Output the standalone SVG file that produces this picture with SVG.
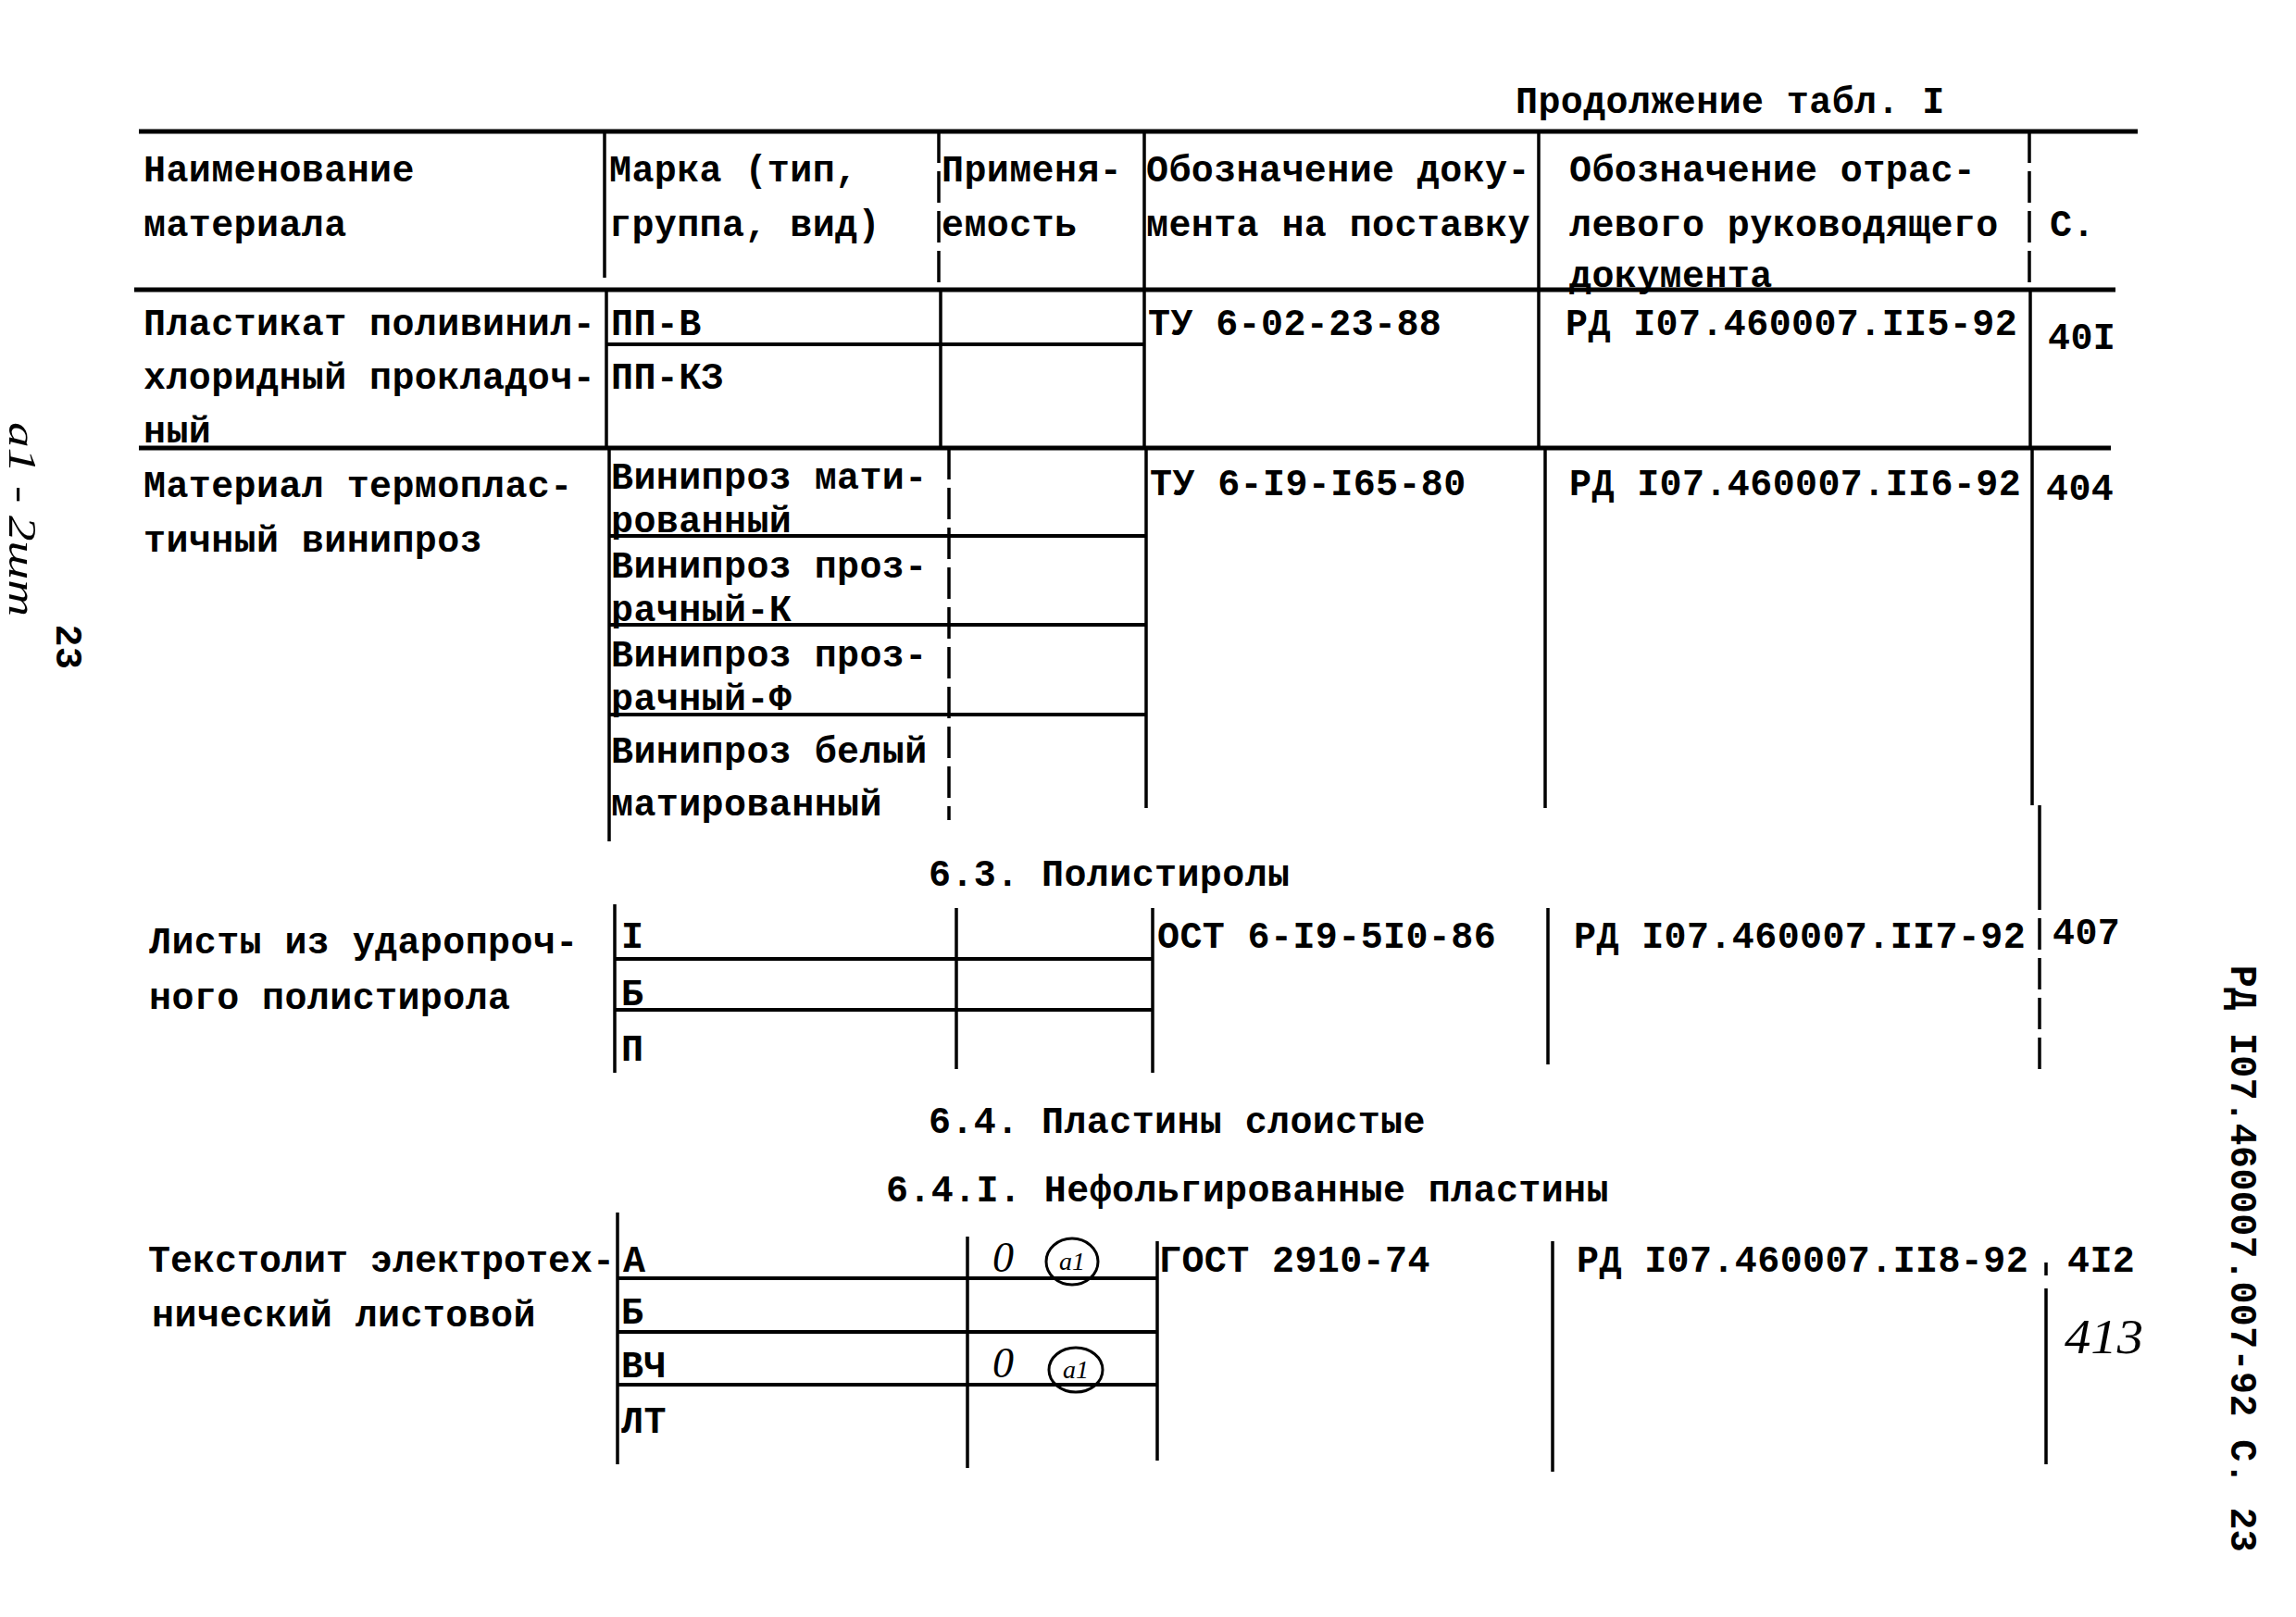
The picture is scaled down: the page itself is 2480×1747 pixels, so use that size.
<svg xmlns="http://www.w3.org/2000/svg" width="2480" height="1747" viewBox="0 0 2480 1747">
<style>
.t{font-family:"Liberation Mono","DejaVu Sans Mono",monospace;font-size:40px;font-weight:bold;fill:#000;letter-spacing:0.4px}
.hw{font-family:"Liberation Serif","DejaVu Serif",serif;font-style:italic;fill:#000}
.h{stroke:#000;stroke-width:5;fill:none}
.hi{stroke:#000;stroke-width:4;fill:none}
.v{stroke:#000;stroke-width:3.5;fill:none}
.vd{stroke:#000;stroke-width:3.5;fill:none;stroke-dasharray:34 9}
.c{stroke:#000;stroke-width:3;fill:none}
</style>
<rect width="2480" height="1747" fill="#fff"/>

<g id="grid">
  <path class="h" d="M150 142H2309M145 313H2285M150 484H2280"/>
  <path class="hi" d="M655 372H1236"/>
  <path class="hi" d="M658 579H1238M658 675H1238M658 772H1238"/>
  <path class="hi" d="M664 1036H1245M664 1091H1245"/>
  <path class="hi" d="M667 1381H1250M667 1439H1250M667 1496H1250"/>
  <path class="v" d="M653 142V300M655 313V484M1236 142V484M1662 142V484"/>
  <path class="vd" d="M1014 142V313M2192 142V313"/>
  <path class="v" d="M1016 313V484M2193 313V484"/>
  <path class="v" d="M658 484V909M1238 484V873M1669 484V873M2195 484V870M2203 870V949"/>
  <path class="vd" d="M1025 484V886"/>
  <path class="v" d="M664 977V1159M1033 981V1155M1245 981V1159M1672 981V1150"/>
  <path class="vd" d="M2203 949V1159"/>
  <path class="v" d="M667 1310V1582M1045 1336V1586M1250 1341V1578M1677 1341V1590M2210 1392V1582M2210 1364V1378"/>
</g>

<g id="title">
  <text class="t" x="1637" y="122">Продолжение табл. I</text>
</g>

<g id="header">
  <text class="t" x="155" y="196">Наименование</text>
  <text class="t" x="155" y="255">материала</text>
  <text class="t" x="658" y="196">Марка (тип,</text>
  <text class="t" x="658" y="255">группа, вид)</text>
  <text class="t" x="1017" y="196">Применя-</text>
  <text class="t" x="1017" y="255">емость</text>
  <text class="t" x="1238" y="196">Обозначение доку-</text>
  <text class="t" x="1238" y="255">мента на поставку</text>
  <text class="t" x="1695" y="196">Обозначение отрас-</text>
  <text class="t" x="1695" y="255">левого руководящего</text>
  <text class="t" x="1695" y="310">документа</text>
  <text class="t" x="2214" y="255">С.</text>
</g>

<g id="row-plastikat">
  <text class="t" x="155" y="362">Пластикат поливинил-</text>
  <text class="t" x="155" y="420">хлоридный прокладоч-</text>
  <text class="t" x="155" y="478">ный</text>
  <text class="t" x="660" y="362">ПП-В</text>
  <text class="t" x="660" y="420">ПП-КЗ</text>
  <text class="t" x="1240" y="362">ТУ 6-02-23-88</text>
  <text class="t" x="1691" y="362">РД I07.460007.II5-92</text>
  <text class="t" x="2212" y="377">40I</text>
</g>

<g id="row-viniproz">
  <text class="t" x="155" y="537">Материал термоплас-</text>
  <text class="t" x="155" y="596">тичный винипроз</text>
  <text class="t" x="660" y="528">Винипроз мати-</text>
  <text class="t" x="660" y="575">рованный</text>
  <text class="t" x="660" y="624">Винипроз проз-</text>
  <text class="t" x="660" y="671">рачный-К</text>
  <text class="t" x="660" y="720">Винипроз проз-</text>
  <text class="t" x="660" y="767">рачный-Ф</text>
  <text class="t" x="660" y="824">Винипроз белый</text>
  <text class="t" x="660" y="881">матированный</text>
  <text class="t" x="1242" y="535">ТУ 6-I9-I65-80</text>
  <text class="t" x="1695" y="535">РД I07.460007.II6-92</text>
  <text class="t" x="2210" y="540">404</text>
</g>

<g id="section-6-3">
  <text class="t" x="1003" y="957">6.3. Полистиролы</text>
</g>

<g id="row-polistirol">
  <text class="t" x="161" y="1030">Листы из ударопроч-</text>
  <text class="t" x="161" y="1090">ного полистирола</text>
  <text class="t" x="671" y="1024">I</text>
  <text class="t" x="671" y="1086">Б</text>
  <text class="t" x="671" y="1146">П</text>
  <text class="t" x="1250" y="1024">ОСТ 6-I9-5I0-86</text>
  <text class="t" x="1700" y="1024">РД I07.460007.II7-92</text>
  <text class="t" x="2217" y="1020">407</text>
</g>

<g id="section-6-4">
  <text class="t" x="1003" y="1224">6.4. Пластины слоистые</text>
  <text class="t" x="957" y="1298">6.4.I. Нефольгированные пластины</text>
</g>

<g id="row-tekstolit">
  <text class="t" x="160" y="1374" style="letter-spacing:0">Текстолит электротех-</text>
  <text class="t" x="164" y="1433">нический листовой</text>
  <text class="t" x="673" y="1374">А</text>
  <text class="t" x="671" y="1430">Б</text>
  <text class="t" x="671" y="1488">ВЧ</text>
  <text class="t" x="671" y="1548">ЛТ</text>
  <text class="t" x="1252" y="1374">ГОСТ 2910-74</text>
  <text class="t" x="1703" y="1374">РД I07.460007.II8-92</text>
  <text class="t" x="2233" y="1374">4I2</text>
  <text class="hw" x="2230" y="1462" font-size="52" textLength="85" lengthAdjust="spacingAndGlyphs">413</text>
  <text class="hw" x="1072" y="1374" font-size="46">0</text>
  <ellipse class="c" cx="1158" cy="1363" rx="28" ry="25"/>
  <text class="hw" x="1158" y="1372" font-size="28" text-anchor="middle">a1</text>
  <text class="hw" x="1072" y="1488" font-size="46">0</text>
  <ellipse class="c" cx="1162" cy="1480" rx="29" ry="24"/>
  <text class="hw" x="1162" y="1489" font-size="28" text-anchor="middle">a1</text>
</g>

<g id="margin-left">
  <text class="t" transform="translate(71 699) rotate(90)" text-anchor="middle" dominant-baseline="central">23</text>
  <text class="hw" transform="translate(24 561) rotate(90)" text-anchor="middle" dominant-baseline="central" font-size="42" textLength="210" lengthAdjust="spacingAndGlyphs">а1 - 2шт</text>
</g>

<g id="margin-right">
  <text class="t" transform="translate(2420 1360) rotate(90)" text-anchor="middle" dominant-baseline="central">РД I07.460007.007-92 С. 23</text>
</g>
</svg>
